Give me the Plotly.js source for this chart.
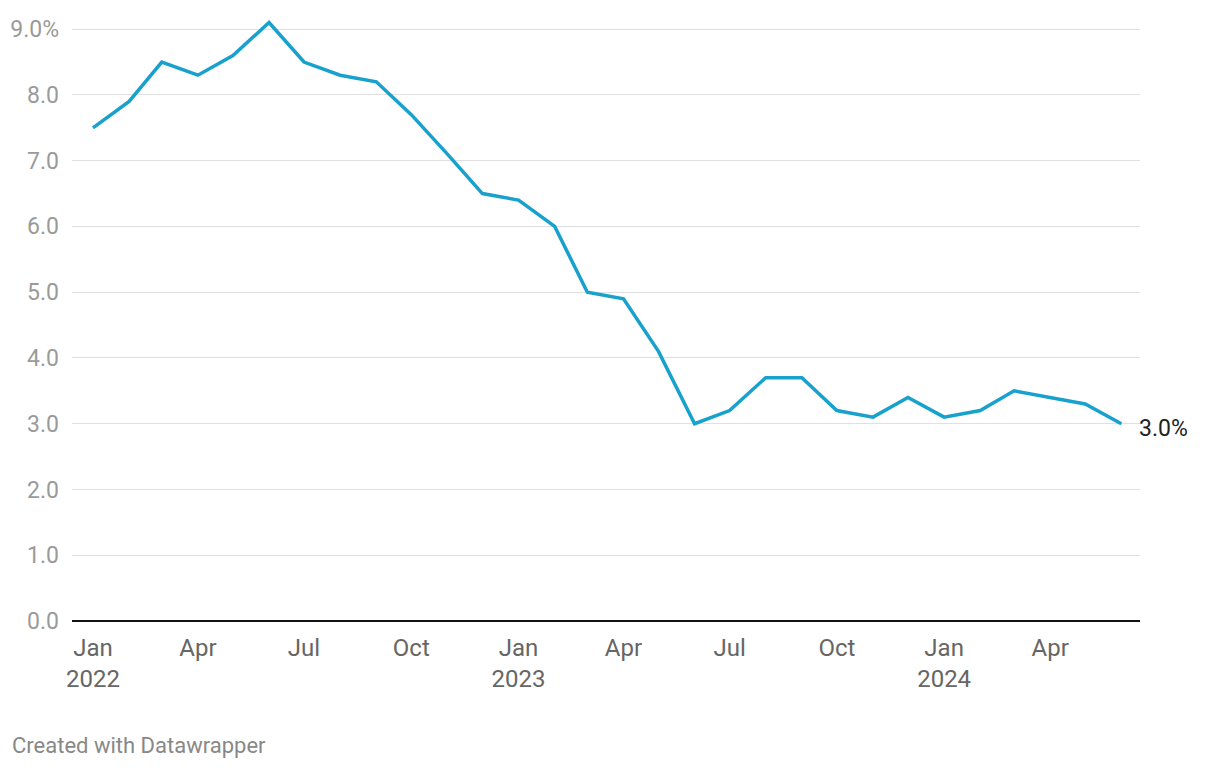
<!DOCTYPE html>
<html>
<head>
<meta charset="utf-8">
<script src="https://cdn.plot.ly/plotly-3.0.1.min.js"></script>
<style>
  html, body { margin: 0; padding: 0; background: #fff; }
  #chart { width: 1220px; height: 768px; }
</style>
</head>
<body>
<div id="chart"></div>
<script>
// monthly values, Jan 2022 - Jun 2024
var months = [
    '2022-01-01', '2022-02-01', '2022-03-01', '2022-04-01', '2022-05-01', '2022-06-01',
    '2022-07-01', '2022-08-01', '2022-09-01', '2022-10-01', '2022-11-01', '2022-12-01',
    '2023-01-01', '2023-02-01', '2023-03-01', '2023-04-01', '2023-05-01', '2023-06-01',
    '2023-07-01', '2023-08-01', '2023-09-01', '2023-10-01', '2023-11-01', '2023-12-01',
    '2024-01-01', '2024-02-01', '2024-03-01', '2024-04-01', '2024-05-01', '2024-06-01'
];
var rates = [
    7.5, 7.9, 8.5, 8.3, 8.6, 9.1,
    8.5, 8.3, 8.2, 7.7, 7.1, 6.5,
    6.4, 6.0, 5.0, 4.9, 4.1, 3.0,
    3.2, 3.7, 3.7, 3.2, 3.1, 3.4,
    3.1, 3.2, 3.5, 3.4, 3.3, 3.0
];
var xTickVals = ['2022-01-01', '2022-04-01', '2022-07-01', '2022-10-01', '2023-01-01', '2023-04-01',
                 '2023-07-01', '2023-10-01', '2024-01-01', '2024-04-01'];
var xTickText = ['Jan<br>2022', 'Apr', 'Jul', 'Oct', 'Jan<br>2023', 'Apr', 'Jul', 'Oct', 'Jan<br>2024', 'Apr'];
var yTickVals = [0, 1, 2, 3, 4, 5, 6, 7, 8, 9];
var yTickText = ['0.0', '1.0', '2.0', '3.0', '4.0', '5.0', '6.0', '7.0', '8.0', '9.0%'];

var trace = {
    x: months,
    y: rates,
    type: 'scatter',
    mode: 'lines',
    line: { color: '#18a1cd', width: 3.5 },
    hoverinfo: 'x+y'
};

var layout = {
    width: 1220,
    height: 768,
    paper_bgcolor: '#fff',
    plot_bgcolor: '#fff',
    font: { family: 'Roboto, sans-serif', size: 24, color: '#666' },
    margin: { l: 72, r: 80, t: 16, b: 147 },
    showlegend: false,
    xaxis: {
        type: 'date',
        range: ['2021-12-14', '2024-06-17'],
        tickvals: xTickVals,
        ticktext: xTickText,
        showgrid: false,
        zeroline: false,
        showline: false,
        ticks: '',
        ticklabelstandoff: 10,
        tickfont: { family: 'Roboto, sans-serif', size: 24, color: '#666' }
    },
    yaxis: {
        range: [0, 9.2],
        tickvals: yTickVals,
        ticktext: yTickText,
        showgrid: true,
        gridcolor: '#e0e0e0',
        gridwidth: 1,
        zeroline: true,
        zerolinecolor: '#111',
        zerolinewidth: 2,
        showline: false,
        ticks: '',
        ticklabelstandoff: 12,
        tickfont: { family: 'Roboto, sans-serif', size: 23, color: '#9a9a9a' }
    },
    annotations: [
        {
            x: months[months.length - 1],
            y: rates[rates.length - 1],
            xref: 'x',
            yref: 'y',
            text: rates[rates.length - 1].toFixed(1) + '%',
            showarrow: false,
            xanchor: 'left',
            yanchor: 'middle',
            xshift: 16,
            yshift: -5,
            font: { family: 'Roboto, sans-serif', size: 23, color: '#222' }
        },
        {
            x: 0,
            y: 0,
            xref: 'paper',
            yref: 'paper',
            xanchor: 'left',
            yanchor: 'middle',
            xshift: -62,
            yshift: -124,
            text: 'Created with Datawrapper',
            showarrow: false,
            font: { family: 'Roboto, sans-serif', size: 22, color: '#888' }
        }
    ]
};

Plotly.newPlot('chart', [trace], layout, { displayModeBar: false, staticPlot: true });
</script>
</body>
</html>
